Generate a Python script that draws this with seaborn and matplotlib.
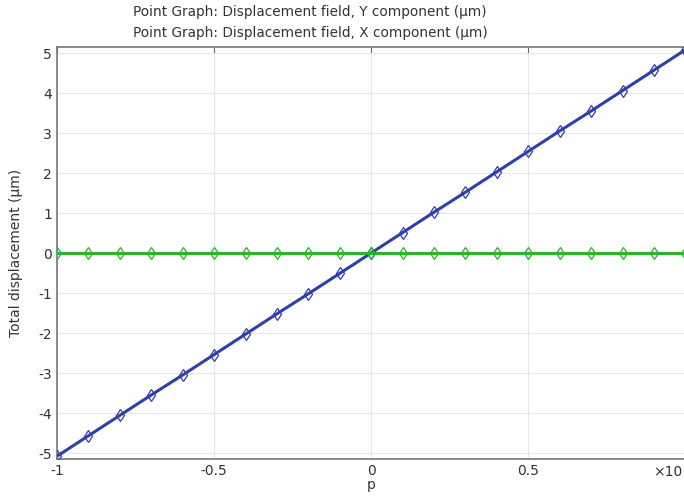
import numpy as np
import pandas as pd
import matplotlib
matplotlib.use("Agg")
import matplotlib.pyplot as plt
import seaborn as sns

p_values = [-1.0, -0.9, -0.8, -0.7, -0.6, -0.5, -0.4, -0.3, -0.2, -0.1, 0.0,
            0.1, 0.2, 0.3, 0.4, 0.5, 0.6, 0.7, 0.8, 0.9, 1.0]
disp_y = [-5.08, -4.57, -4.06, -3.55, -3.05, -2.54, -2.03, -1.52, -1.02, -0.51, 0.0,
          0.51, 1.02, 1.52, 2.03, 2.54, 3.05, 3.55, 4.06, 4.57, 5.08]
disp_x = [0.0] * 21
series_names = ["Displacement field, Y component", "Displacement field, X component"]
x_ticks = [-1, -0.5, 0, 0.5]
x_tick_labels = ["-1", "-0.5", "0", "0.5"]
y_ticks = [-5, -4, -3, -2, -1, 0, 1, 2, 3, 4, 5]

df = pd.DataFrame({
    "p": p_values * 2,
    "disp": disp_y + disp_x,
    "series": [series_names[0]] * 21 + [series_names[1]] * 21,
})

sns.set_style("white")
plt.rcParams['font.family'] = ['DejaVu Sans']
plt.rcParams['axes.unicode_minus'] = False

fig = plt.figure(figsize=(6.84, 4.98), dpi=100)
ax = fig.add_axes([57/684, 39/498, 1 - 57/684 + 0.002, (459-47)/498])

palette = {series_names[0]: "#2f3fa8", series_names[1]: "#2ab52a"}
sns.lineplot(data=df, x="p", y="disp", hue="series", palette=palette,
             marker="d", markersize=6.5, markerfacecolor="none",
             markeredgewidth=0.9, linewidth=2.2, legend=False, ax=ax,
             zorder=3)
for line, col in zip(ax.get_lines(), palette.values()):
    line.set_markeredgecolor(col)

ax.set_xlim(-1, 1)
ax.set_ylim(-5.15, 5.15)
ax.set_xticks(x_ticks)
ax.set_xticklabels(x_tick_labels)
ax.set_yticks(y_ticks)
ax.grid(True, color="#e6e6e6", linewidth=0.8, zorder=0)
ax.tick_params(axis="both", direction="in", length=4, color="#666666",
               labelsize=10, labelcolor="#333333", top=True, right=False)
for s in ["left", "bottom", "top"]:
    ax.spines[s].set_color("#777777")
    ax.spines[s].set_linewidth(1.2)
ax.spines["right"].set_visible(False)

ax.set_xlabel("p", fontsize=10, color="#333333", labelpad=0)
ax.set_ylabel("Total displacement (µm)", fontsize=10, color="#333333", labelpad=11)

fig.text(310/684, 1 - 12/498, "Point Graph: Displacement field, Y component (µm)",
         ha="center", va="center", fontsize=9.8, color="#333333")
fig.text(310/684, 1 - 33/498, "Point Graph: Displacement field, X component (µm)",
         ha="center", va="center", fontsize=9.8, color="#333333")
fig.text(668/684, 1 - 472/498, "×10", ha="center", va="center",
         fontsize=10, color="#333333")

fig.savefig("out.png", dpi=100)
